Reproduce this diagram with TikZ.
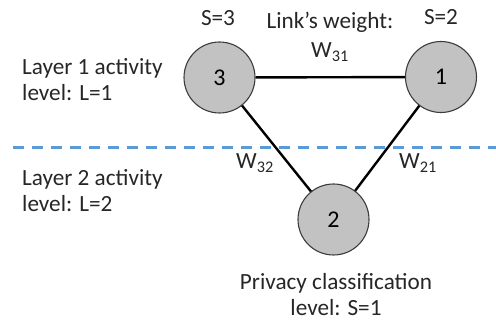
\documentclass[tikz,border=0pt]{standalone}
\usepackage{fontspec}
\setmainfont{Carlito}
\definecolor{layerblue}{RGB}{91,155,213}
\definecolor{nodegray}{RGB}{194,194,194}
\definecolor{rimgray}{RGB}{60,60,60}
\begin{document}
\begin{tikzpicture}[x=1pt,y=-1pt,
  vertex/.style={circle,draw=rimgray,line width=1.1pt,fill=nodegray,
    minimum size=71pt,inner sep=0pt,font=\fontsize{24}{28}\selectfont},
  link/.style={line width=2.4pt,black},
  lbl/.style={font=\fontsize{23.2}{26}\selectfont,text=black!85,inner sep=0pt},
  divider/.style={layerblue,line width=2.6pt,dash pattern=on 11pt off 8pt}]
\useasboundingbox (0,0) rectangle (496,323);

% layer boundary
\draw[divider] (13,147.5) -- (496,147.5);

% nodes
\node[vertex] (n3) at (219.5,77.5) {3};
\node[vertex] (n1) at (441,77) {1};
\node[vertex] (n2) at (333.5,219.5) {2};

% links
\draw[link] (n3) -- (n1);
\draw[link] (n3) -- (n2);
\draw[link] (n1) -- (n2);

% labels
\node[lbl] (s3) at (218,18) {S=3};
\node[lbl] (s2) at (441,17) {S=2};
\node[lbl] (lw) at (330,22) {Link’s weight:};
\node[lbl] (w31) at (330,52) {W\textsubscript{31}};
\node[lbl] (w32) at (255,163) {W\textsubscript{32}};
\node[lbl] (w21) at (418,163) {W\textsubscript{21}};
\node[lbl,anchor=west,align=left] (l1) at (22,80) {Layer 1 activity\\level: L=1};
\node[lbl,anchor=west,align=left] (l2) at (22,191) {Layer 2 activity\\level: L=2};
\node[lbl,align=center] (pc) at (336,295) {Privacy classification\\level: S=1};
\end{tikzpicture}
\end{document}
